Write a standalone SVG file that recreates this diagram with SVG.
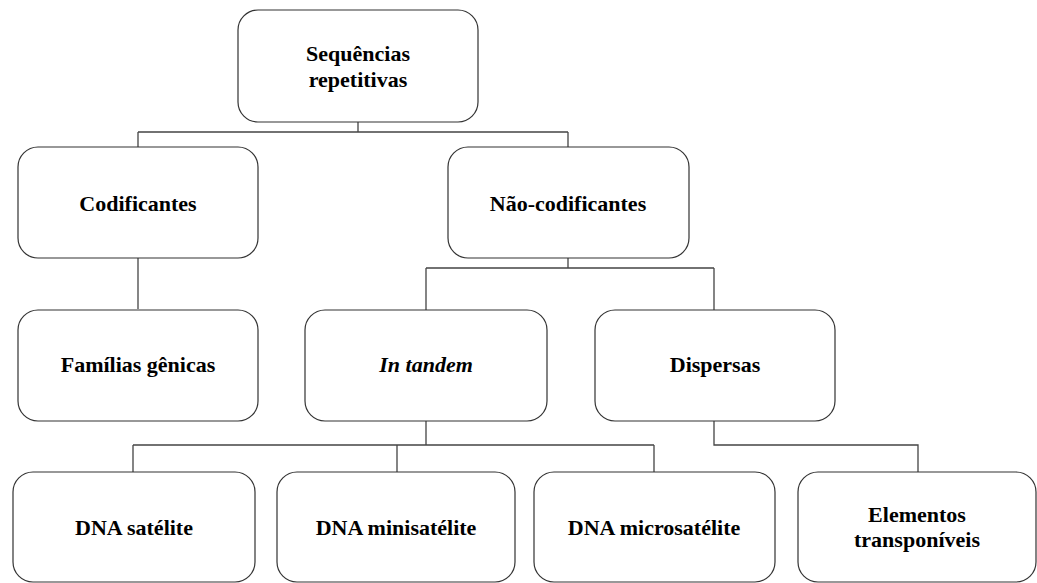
<svg xmlns="http://www.w3.org/2000/svg" width="1037" height="583" viewBox="0 0 1037 583">
<style>
.box{fill:#fff;stroke:#333;stroke-width:1.2}
.t{font-family:'Liberation Serif','Times New Roman','DejaVu Serif',serif;font-weight:700;font-size:22px;fill:#000;text-anchor:middle}
.c{fill:none;stroke:#444;stroke-width:1.3}
</style>
<rect width="1037" height="583" fill="#fff"/>
<g id="connectors">
<path class="c" d="M358,122V132M138,132H568M138,132V147M568,132V147"/>
<path class="c" d="M138,258V309"/>
<path class="c" d="M568,258V268M426,268H714M426,268V310M714,268V310"/>
<path class="c" d="M426,421V445M133,445H654M133,445V472M397,445V472M654,445V472"/>
<path class="c" d="M714,421V445H918V472"/>
</g>
<g id="n-seq"><rect class="box" x="238" y="10" width="240" height="112" rx="20"/><text class="t" x="358" y="61">Sequências</text><text class="t" x="358" y="87">repetitivas</text></g>
<g id="n-cod"><rect class="box" x="18" y="147" width="240" height="111" rx="20"/><text class="t" x="138" y="211">Codificantes</text></g>
<g id="n-naocod"><rect class="box" x="448" y="147" width="241" height="111" rx="20"/><text class="t" x="568" y="211">Não-codificantes</text></g>
<g id="n-fam"><rect class="box" x="18" y="310" width="240" height="111" rx="20"/><text class="t" x="138" y="372">Famílias gênicas</text></g>
<g id="n-tandem"><rect class="box" x="305" y="310" width="242" height="111" rx="20"/><text class="t" x="426" y="372" font-style="italic">In tandem</text></g>
<g id="n-disp"><rect class="box" x="595" y="310" width="240" height="111" rx="20"/><text class="t" x="715" y="372">Dispersas</text></g>
<g id="n-sat"><rect class="box" x="13" y="472" width="242" height="110" rx="20"/><text class="t" x="134" y="535">DNA satélite</text></g>
<g id="n-mini"><rect class="box" x="277" y="472" width="238" height="110" rx="20"/><text class="t" x="396" y="535">DNA minisatélite</text></g>
<g id="n-micro"><rect class="box" x="534" y="472" width="241" height="110" rx="20"/><text class="t" x="654" y="535">DNA microsatélite</text></g>
<g id="n-elem"><rect class="box" x="798" y="472" width="238" height="110" rx="20"/><text class="t" x="917" y="522">Elementos</text><text class="t" x="917" y="547">transponíveis</text></g>
</svg>
